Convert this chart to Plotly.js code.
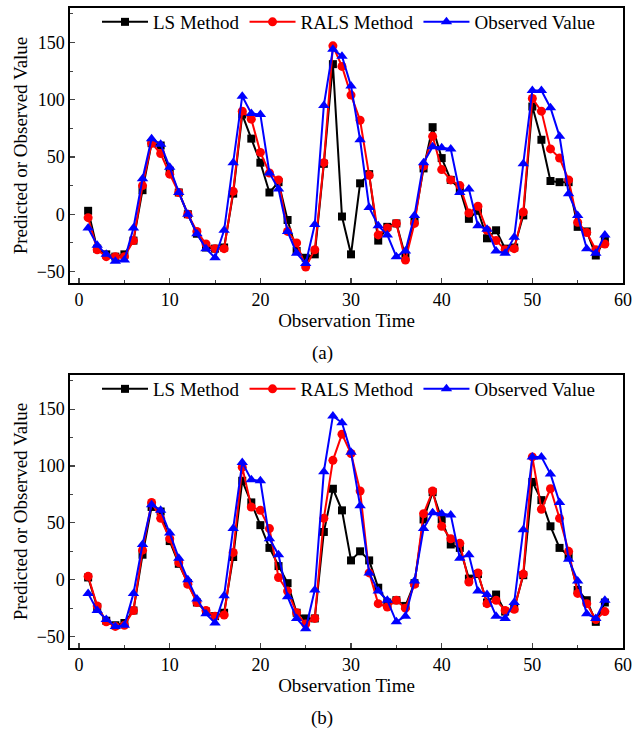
<!DOCTYPE html>
<html>
<head>
<meta charset="utf-8">
<script src="https://cdn.plot.ly/plotly-3.0.1.min.js"></script>
<style>html,body{margin:0;padding:0;background:#fff;}#chart{width:643px;height:729px;}</style>
</head>
<body>
<div id="chart"></div>
<script>
const time = Array.from({length: 58}, (_, i) => i + 1);

const observed = [-12,-27,-35,-41,-40,-12,31,66,61,41,19,0,-17,-30,-38,-14,45,103,88,87,
  36,22,-15,-34,-43,-9,95,144,138,112,65,6,-10,-18,-37,-32,-1,45,59,58,
  57,19,22,-10,-13,-32,-34,-20,44,108,108,93,68,18,-1,-30,-34,-18];

const lsA = [3,-30,-35,-37,-35,-23,21,62,60,38,19,0,-17,-29,-30,-29,18,87,66,45,
  19,28,-5,-32,-38,-35,44,131,-2,-35,27,35,-23,-11,-8,-37,-5,40,76,49,
  30,22,-4,3,-21,-14,-30,-29,-1,94,65,29,28,28,-11,-15,-36,-22];

const ralsA = [-3,-31,-37,-37,-37,-23,25,62,53,35,19,0,-15,-26,-30,-30,20,90,83,54,
  36,30,-15,-25,-46,-31,45,147,129,104,82,34,-18,-12,-8,-40,-8,42,68,39,
  30,25,1,7,-14,-23,-31,-30,2,101,90,57,49,30,-7,-16,-31,-26];

const lsB = [2,-24,-36,-40,-38,-27,22,64,60,34,14,-3,-20,-28,-32,-29,20,87,68,48,
  28,12,-3,-29,-34,-34,42,80,61,17,25,17,-7,-20,-18,-23,-3,53,77,53,
  31,28,1,5,-20,-13,-28,-25,4,86,70,47,28,21,-9,-18,-37,-20];

const ralsB = [3,-23,-37,-41,-40,-27,26,68,54,36,15,-4,-20,-27,-32,-31,24,99,64,61,
  45,2,-10,-29,-39,-34,54,105,128,111,78,6,-21,-24,-18,-25,-4,58,78,47,
  36,32,-2,6,-21,-18,-27,-26,5,108,62,80,54,25,-12,-21,-35,-28];

const seriesNames = ['LS Method', 'RALS Method', 'Observed Value'];
const colors = ['#000000', '#ff0000', '#0000ff'];
const symbols = ['square', 'circle', 'triangle-up'];
const sizes = [8, 9, 10];

function mk(y, k, xa, ya) {
  return {
    x: time, y: y, type: 'scatter', mode: 'lines+markers',
    name: seriesNames[k], showlegend: true, legend: xa === 'x' ? 'legend' : 'legend2',
    xaxis: xa, yaxis: ya,
    line: {color: colors[k], width: 2},
    marker: {color: colors[k], symbol: symbols[k], size: sizes[k]}
  };
}

const traces = [
  mk(lsA, 0, 'x', 'y'), mk(ralsA, 1, 'x', 'y'), mk(observed, 2, 'x', 'y'),
  mk(lsB, 0, 'x2', 'y2'), mk(ralsB, 1, 'x2', 'y2'), mk(observed, 2, 'x2', 'y2')
];

const W = 643, H = 729;
const fam = '"Liberation Serif", "Times New Roman", serif';
const font = {family: fam, size: 19, color: '#000'};
const tickFont = {family: fam, size: 18, color: '#000'};

function xax(anchor) {
  return {
    domain: [70 / W, 623 / W], anchor: anchor, range: [-1, 60],
    tickvals: [0, 10, 20, 30, 40, 50, 60], ticks: 'inside', ticklen: 5, tickwidth: 1.2,
    minor: {tickvals: [5, 15, 25, 35, 45, 55], ticks: 'inside', ticklen: 3, tickwidth: 1},
    showline: true, linecolor: '#000', linewidth: 1.6, mirror: true,
    showgrid: false, zeroline: false, tickfont: tickFont,
    title: {text: 'Observation Time', font: font, standoff: 1}
  };
}
function yax(anchor, top, bottom) {
  return {
    domain: [1 - bottom / H, 1 - top / H], anchor: anchor, range: [-60, 180],
    tickvals: [-50, 0, 50, 100, 150], ticks: 'inside', ticklen: 5, tickwidth: 1.2,
    minor: {tickvals: [-25, 25, 75, 125, 175], ticks: 'inside', ticklen: 3, tickwidth: 1},
    showline: true, linecolor: '#000', linewidth: 1.6, mirror: true,
    showgrid: false, zeroline: false, tickfont: tickFont,
    title: {text: 'Predicted or Observed Value', font: font, standoff: 4}
  };
}

const legendBase = {
  orientation: 'h', xanchor: 'left', yanchor: 'middle', x: 97 / W,
  font: font, bgcolor: 'rgba(0,0,0,0)', borderwidth: 0, itemwidth: 46, tracegroupgap: 0
};

const layout = {
  width: W, height: H, margin: {l: 0, r: 0, t: 0, b: 0},
  paper_bgcolor: '#fff', plot_bgcolor: '#fff', font: font,
  xaxis: xax('y'), yaxis: yax('x', 8, 283),
  xaxis2: xax('y2'), yaxis2: yax('x2', 375, 648),
  legend: Object.assign({}, legendBase, {y: 1 - 22 / H}),
  legend2: Object.assign({}, legendBase, {y: 1 - 389 / H}),
  annotations: [
    {text: '(a)', xref: 'paper', yref: 'paper', x: 322 / W, y: 1 - 353 / H, showarrow: false, font: font, xanchor: 'center', yanchor: 'middle'},
    {text: '(b)', xref: 'paper', yref: 'paper', x: 322 / W, y: 1 - 718 / H, showarrow: false, font: font, xanchor: 'center', yanchor: 'middle'}
  ]
};

Plotly.newPlot('chart', traces, layout, {displayModeBar: false, staticPlot: true});
</script>
</body>
</html>
